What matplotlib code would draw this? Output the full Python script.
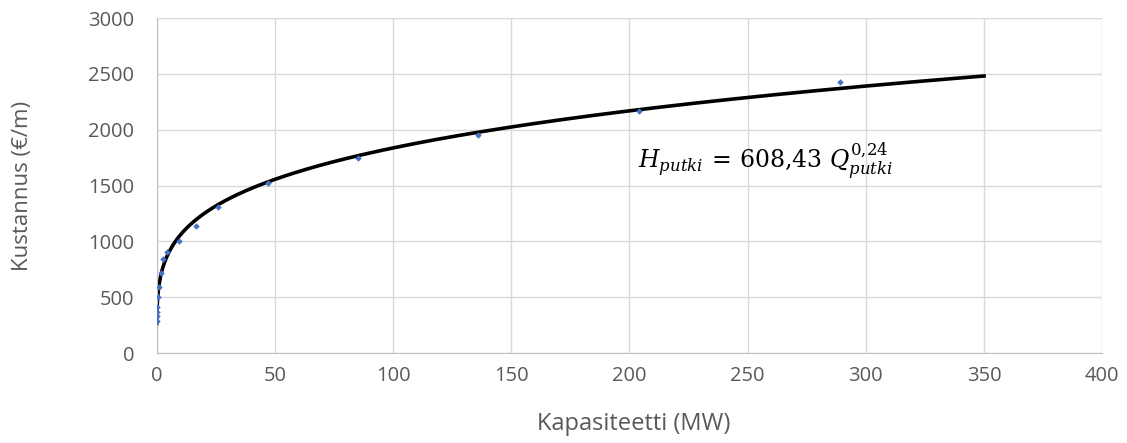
import matplotlib.pyplot as plt
import numpy as np

# pipe capacity (MW) vs. cost (EUR/m)
capacity_mw = [0.03, 0.07, 0.12, 0.2, 0.45, 0.9, 2.0, 2.8, 4.5, 9.5,
               16.5, 26, 47, 85, 136, 204, 289]
cost_eur_m = [290, 330, 370, 415, 505, 595, 715, 840, 905, 1000,
              1140, 1310, 1520, 1750, 1950, 2165, 2430]

# power-law fit H = a * Q^b
fit_a = 608.43
fit_b = 0.24
fit_q_max = 350

x_ticks = [0, 50, 100, 150, 200, 250, 300, 350, 400]
y_ticks = [0, 500, 1000, 1500, 2000, 2500, 3000]

plt.rcParams["font.family"] = ["Open Sans", "DejaVu Sans"]
plt.rcParams["mathtext.fontset"] = "dejavuserif"

fig, ax = plt.subplots(figsize=(11.27, 4.43), dpi=100)
fig.subplots_adjust(left=0.139, right=0.978, top=0.959, bottom=0.203)

q = np.geomspace(min(capacity_mw), fit_q_max, 3000)
ax.plot(q, fit_a * q ** fit_b, color="black", lw=2.6, zorder=2)

ax.scatter(capacity_mw, cost_eur_m, marker="D", s=11, color="#4472C4",
           zorder=3, linewidths=0)

ax.set_xlim(x_ticks[0], x_ticks[-1])
ax.set_ylim(y_ticks[0], y_ticks[-1])
ax.set_xticks(x_ticks)
ax.set_yticks(y_ticks)
ax.grid(True, color="#D9D9D9", lw=1)
ax.set_axisbelow(True)
ax.tick_params(length=0, labelsize=14.5, colors="#595959")
ax.tick_params(axis="x", pad=9)
ax.tick_params(axis="y", pad=16)

for side in ["top", "right"]:
    ax.spines[side].set_visible(False)
ax.spines["left"].set_color("#BFBFBF")
ax.spines["bottom"].set_color("#BFBFBF")

ax.set_xlabel("Kapasiteetti (MW)", fontsize=17, color="#595959")
ax.set_ylabel("Kustannus (€/m)", fontsize=16, color="#595959")
ax.xaxis.set_label_coords(0.505, -0.176)
ax.yaxis.set_label_coords(-0.131, 0.5)

# fit equation label
ax.text(203.6, 1648, r"$H_{putki}\,=\,608{,}43\ Q_{putki}^{0{,}24}$",
        fontsize=17, color="black", va="baseline", ha="left")

fig.savefig("out.png")
